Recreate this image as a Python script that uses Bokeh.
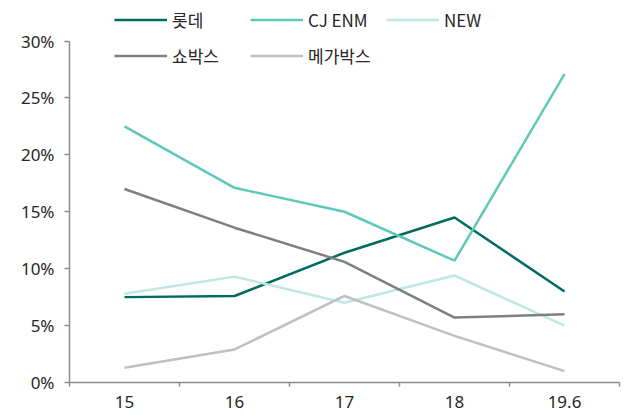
from bokeh.plotting import figure
from bokeh.models import (Legend, LegendItem, FixedTicker, NumeralTickFormatter, Range1d)
from bokeh.embed import file_html
from bokeh.resources import INLINE

categories = ["15", "16", "17", "18", "19.6"]
lotte = [0.075, 0.076, 0.114, 0.145, 0.080]
cj_enm = [0.225, 0.171, 0.150, 0.107, 0.271]
new = [0.078, 0.093, 0.070, 0.094, 0.050]
showbox = [0.170, 0.136, 0.106, 0.057, 0.060]
megabox = [0.013, 0.029, 0.076, 0.041, 0.010]

series_names = ["롯데", "CJ ENM", "NEW", "쇼박스", "메가박스"]
series_vals = [lotte, cj_enm, new, showbox, megabox]
series_colors = ["#006B5F", "#5FC9B9", "#BEE8E1", "#7F7F7F", "#C0C0C0"]

x = list(range(len(categories)))

p = figure(width=629, height=417, output_backend="svg", toolbar_location=None,
           x_range=Range1d(-0.5, len(categories) - 0.5),
           y_range=Range1d(0, 0.3 * 382 / 341.5),
           min_border_left=69, min_border_right=10, min_border_top=0, min_border_bottom=35)
p.outline_line_color = None
p.grid.visible = False
p.background_fill_color = "white"
p.border_fill_color = "white"

items = []
for name, vals, col in zip(series_names, series_vals, series_colors):
    r = p.line(x, vals, line_color=col, line_width=2.5)
    items.append(LegendItem(label=name, renderers=[r]))

axis_col = "#8C8C8C"
font = "Noto Sans"

# x axis
xa = p.xaxis[0]
xa.ticker = FixedTicker(ticks=x, minor_ticks=[i - 0.5 for i in range(len(categories) + 1)])
xa.major_label_overrides = {i: c for i, c in enumerate(categories)}
xa.major_tick_line_color = None
xa.major_tick_out = 0
xa.major_tick_in = 0
xa.minor_tick_line_color = axis_col
xa.minor_tick_line_width = 1.5
xa.minor_tick_out = 4
xa.minor_tick_in = 0
xa.axis_line_color = axis_col
xa.axis_line_width = 1.5
xa.major_label_text_font = font
xa.major_label_text_font_size = "17px"
xa.major_label_text_color = "#262626"
xa.major_label_standoff = 9

# y axis
ya = p.yaxis[0]
ya.ticker = FixedTicker(ticks=[0, 0.05, 0.10, 0.15, 0.20, 0.25, 0.30])
ya.formatter = NumeralTickFormatter(format="0%")
ya.bounds = (0, 0.30)
ya.axis_line_color = axis_col
ya.axis_line_width = 1.5
ya.major_tick_line_color = axis_col
ya.major_tick_line_width = 1.5
ya.major_tick_out = 5
ya.major_tick_in = 0
ya.minor_tick_line_color = None
ya.major_label_text_font = font
ya.major_label_text_font_size = "17px"
ya.major_label_text_color = "#262626"
ya.major_label_standoff = 10

legend = Legend(items=items, orientation="horizontal", ncols=3,
                location=(45, 312), padding=0, margin=0,
                border_line_color=None, background_fill_alpha=0,
                glyph_width=53, glyph_height=29, label_height=29,
                label_width=71, label_standoff=5, spacing=7,
                label_text_font="Noto Sans CJK KR", label_text_font_size="17px",
                label_text_color="#262626")
p.add_layout(legend, "center")

open("out.html", "w").write(file_html(p, INLINE))
